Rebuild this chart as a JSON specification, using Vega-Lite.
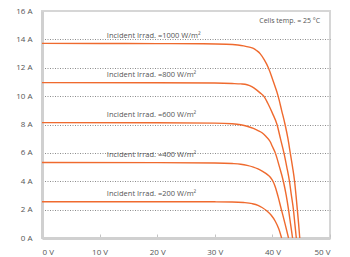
{
  "$schema": "https://vega.github.io/schema/vega-lite/v6.json",
  "width": 288,
  "height": 227,
  "autosize": {"type": "none"},
  "padding": {"left": 42, "top": 11, "right": 20, "bottom": 19},
  "config": {
    "view": {"stroke": "#d6d6d6", "strokeWidth": 2},
    "font": "Open Sans",
    "axisX": {"title": null, "grid": false, "domainColor": "#d0d0d0", "domainWidth": 3, "tickColor": "#c4c4c4", "tickSize": -4, "tickWidth": 1,
      "labelPadding": 14, "labelFontSize": 8, "labelColor": "#555555", "labelFont": "Open Sans", "labelOverlap": false},
    "axisY": {"title": null, "grid": true, "gridColor": "#8c8c8c", "gridDash": [1, 1.5], "gridWidth": 1, "ticks": false, "labelOverlap": false,
      "domainColor": "#d0d0d0", "domainWidth": 3, "labelPadding": 10, "labelFontSize": 8, "labelColor": "#555555", "labelFont": "Open Sans"}
  },
  "datasets": {
    "curves": [
      {"irr": "1000", "V": 0, "I": 13.72}, {"irr": "1000", "V": 10, "I": 13.71}, {"irr": "1000", "V": 20, "I": 13.7}, {"irr": "1000", "V": 28, "I": 13.69}, {"irr": "1000", "V": 32, "I": 13.66}, {"irr": "1000", "V": 34, "I": 13.6}, {"irr": "1000", "V": 35, "I": 13.54}, {"irr": "1000", "V": 36, "I": 13.45}, {"irr": "1000", "V": 36.7, "I": 13.36}, {"irr": "1000", "V": 37.3, "I": 13.2}, {"irr": "1000", "V": 37.9, "I": 12.98}, {"irr": "1000", "V": 38.6, "I": 12.55}, {"irr": "1000", "V": 39.3, "I": 12.0}, {"irr": "1000", "V": 40.1, "I": 11.1}, {"irr": "1000", "V": 41.0, "I": 10.0}, {"irr": "1000", "V": 41.6, "I": 9.0}, {"irr": "1000", "V": 42.2, "I": 8.0}, {"irr": "1000", "V": 42.7, "I": 7.0}, {"irr": "1000", "V": 43.1, "I": 6.0}, {"irr": "1000", "V": 43.5, "I": 5.0}, {"irr": "1000", "V": 43.85, "I": 4.0}, {"irr": "1000", "V": 44.1, "I": 3.0}, {"irr": "1000", "V": 44.33, "I": 2.0}, {"irr": "1000", "V": 44.55, "I": 1.0}, {"irr": "1000", "V": 44.75, "I": 0},
      {"irr": "800", "V": 0, "I": 10.95}, {"irr": "800", "V": 20, "I": 10.94}, {"irr": "800", "V": 30, "I": 10.92}, {"irr": "800", "V": 33, "I": 10.89}, {"irr": "800", "V": 34.5, "I": 10.86}, {"irr": "800", "V": 35.6, "I": 10.8}, {"irr": "800", "V": 36.5, "I": 10.65}, {"irr": "800", "V": 37.3, "I": 10.42}, {"irr": "800", "V": 38.0, "I": 10.18}, {"irr": "800", "V": 38.5, "I": 10.0}, {"irr": "800", "V": 39.2, "I": 9.5}, {"irr": "800", "V": 40.0, "I": 8.8}, {"irr": "800", "V": 40.8, "I": 8.0}, {"irr": "800", "V": 41.4, "I": 7.0}, {"irr": "800", "V": 42.0, "I": 6.0}, {"irr": "800", "V": 42.5, "I": 5.0}, {"irr": "800", "V": 42.96, "I": 4.0}, {"irr": "800", "V": 43.3, "I": 3.0}, {"irr": "800", "V": 43.65, "I": 2.0}, {"irr": "800", "V": 43.9, "I": 1.0}, {"irr": "800", "V": 44.15, "I": 0},
      {"irr": "600", "V": 0, "I": 8.13}, {"irr": "600", "V": 20, "I": 8.12}, {"irr": "600", "V": 30, "I": 8.1}, {"irr": "600", "V": 33, "I": 8.05}, {"irr": "600", "V": 34.5, "I": 7.98}, {"irr": "600", "V": 35.6, "I": 7.88}, {"irr": "600", "V": 36.7, "I": 7.72}, {"irr": "600", "V": 37.5, "I": 7.57}, {"irr": "600", "V": 38.2, "I": 7.42}, {"irr": "600", "V": 38.9, "I": 7.15}, {"irr": "600", "V": 39.6, "I": 6.8}, {"irr": "600", "V": 40.0, "I": 6.45}, {"irr": "600", "V": 40.5, "I": 6.0}, {"irr": "600", "V": 41.2, "I": 5.05}, {"irr": "600", "V": 41.9, "I": 4.0}, {"irr": "600", "V": 42.4, "I": 3.0}, {"irr": "600", "V": 42.8, "I": 2.0}, {"irr": "600", "V": 43.15, "I": 1.0}, {"irr": "600", "V": 43.5, "I": 0},
      {"irr": "400", "V": 0, "I": 5.32}, {"irr": "400", "V": 20, "I": 5.31}, {"irr": "400", "V": 30, "I": 5.29}, {"irr": "400", "V": 33, "I": 5.25}, {"irr": "400", "V": 34.5, "I": 5.2}, {"irr": "400", "V": 35.6, "I": 5.12}, {"irr": "400", "V": 36.7, "I": 5.0}, {"irr": "400", "V": 37.5, "I": 4.87}, {"irr": "400", "V": 38.3, "I": 4.7}, {"irr": "400", "V": 39.2, "I": 4.45}, {"irr": "400", "V": 39.7, "I": 4.25}, {"irr": "400", "V": 40.1, "I": 4.0}, {"irr": "400", "V": 40.5, "I": 3.6}, {"irr": "400", "V": 41.0, "I": 2.9}, {"irr": "400", "V": 41.5, "I": 2.1}, {"irr": "400", "V": 42.2, "I": 1.0}, {"irr": "400", "V": 42.8, "I": 0},
      {"irr": "200", "V": 0, "I": 2.56}, {"irr": "200", "V": 20, "I": 2.56}, {"irr": "200", "V": 30, "I": 2.55}, {"irr": "200", "V": 33, "I": 2.54}, {"irr": "200", "V": 35, "I": 2.5}, {"irr": "200", "V": 36.5, "I": 2.42}, {"irr": "200", "V": 37.5, "I": 2.3}, {"irr": "200", "V": 38.2, "I": 2.15}, {"irr": "200", "V": 39.0, "I": 1.92}, {"irr": "200", "V": 39.8, "I": 1.6}, {"irr": "200", "V": 40.5, "I": 1.18}, {"irr": "200", "V": 41.1, "I": 0.65}, {"irr": "200", "V": 41.6, "I": 0}
    ],
    "labels": [
      {"label": "Incident Irrad. =1000 W/m²", "I": 13.72},
      {"label": "Incident Irrad. =800 W/m²", "I": 10.95},
      {"label": "Incident Irrad. =600 W/m²", "I": 8.13},
      {"label": "Incident Irrad. =400 W/m²", "I": 5.32},
      {"label": "Incident Irrad. =200 W/m²", "I": 2.56}
    ]
  },
  "layer": [
    {
      "data": {"name": "curves"},
      "mark": {"type": "line", "interpolate": "monotone", "color": "#ef6a2e", "strokeWidth": 1.4},
      "encoding": {
        "x": {"field": "V", "type": "quantitative", "scale": {"domain": [0, 50], "nice": false},
          "axis": {"values": [0, 10, 20, 30, 40, 50], "labelExpr": "datum.value + ' V'"}},
        "y": {"field": "I", "type": "quantitative", "scale": {"domain": [0, 16], "nice": false},
          "axis": {"values": [0, 2, 4, 6, 8, 10, 12, 14, 16], "labelExpr": "datum.value + ' A'",
            "gridColor": {"condition": {"test": "datum.value == 0 || datum.value == 16", "value": "transparent"}, "value": "#8c8c8c"}}},
        "detail": {"field": "irr"}
      }
    },
    {
      "data": {"name": "labels"},
      "mark": {"type": "text", "align": "left", "baseline": "bottom", "dy": -3.5, "fontSize": 7.5, "color": "#555555", "font": "Open Sans"},
      "encoding": {
        "x": {"datum": 11.25, "axis": {"values": [0, 10, 20, 30, 40, 50], "labelExpr": "datum.value + ' V'"}},
        "y": {"field": "I", "type": "quantitative",
          "axis": {"values": [0, 2, 4, 6, 8, 10, 12, 14, 16], "labelExpr": "datum.value + ' A'",
            "gridColor": {"condition": {"test": "datum.value == 0 || datum.value == 16", "value": "transparent"}, "value": "#8c8c8c"}}},
        "text": {"field": "label"}
      }
    },
    {
      "data": {"values": [{"t": "Cells temp. = 25 °C"}]},
      "mark": {"type": "text", "align": "right", "baseline": "middle", "fontSize": 7, "color": "#555555", "font": "Open Sans"},
      "encoding": {
        "x": {"datum": 48.3, "axis": {"values": [0, 10, 20, 30, 40, 50], "labelExpr": "datum.value + ' V'"}},
        "y": {"datum": 15.27,
          "axis": {"values": [0, 2, 4, 6, 8, 10, 12, 14, 16], "labelExpr": "datum.value + ' A'",
            "gridColor": {"condition": {"test": "datum.value == 0 || datum.value == 16", "value": "transparent"}, "value": "#8c8c8c"}}},
        "text": {"field": "t"}
      }
    }
  ]
}
